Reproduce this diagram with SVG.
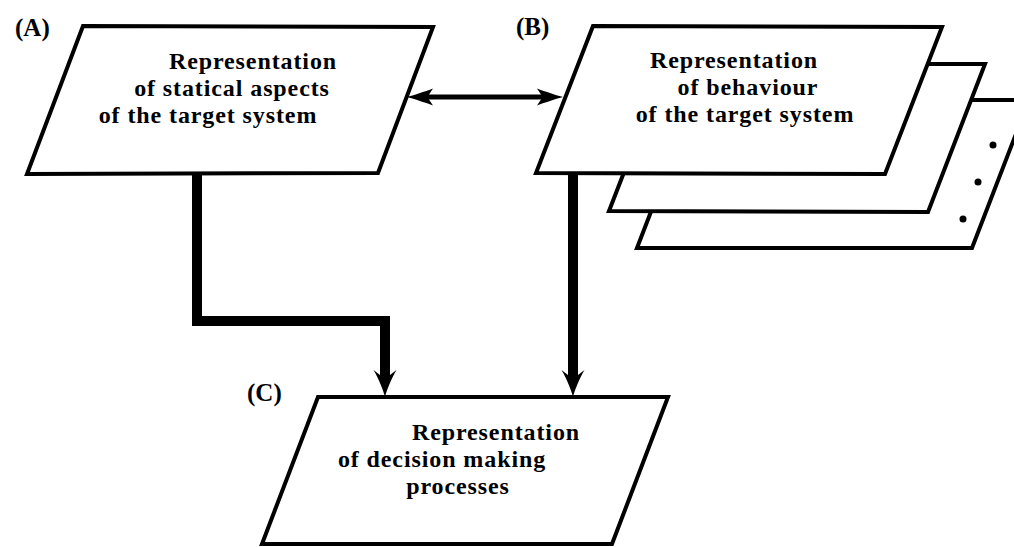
<svg xmlns="http://www.w3.org/2000/svg" width="1014" height="547" viewBox="0 0 1014 547">
<style>
.shape{fill:#fff;stroke:#000;stroke-width:4;stroke-linejoin:miter}
.txt{font-family:"Liberation Serif","Times New Roman",serif;font-weight:bold;font-size:24px;letter-spacing:0.9px;fill:#000;text-anchor:middle}
.lbl{font-family:"Liberation Serif","Times New Roman",serif;font-weight:bold;font-size:25px;fill:#000}
.flow{fill:none;stroke:#000;stroke-width:10;stroke-linejoin:miter}
.dbl{fill:none;stroke:#000;stroke-width:5}
</style>
<defs>
<marker id="headDown" markerUnits="userSpaceOnUse" markerWidth="30" markerHeight="28" refX="5" refY="14" orient="auto" overflow="visible">
<path d="M27,14 C21,12.5 9,8 0,2.5 L5,9 L5,19 L0,25.5 C9,20 21,15.5 27,14 Z" fill="#000"/>
</marker>
<marker id="headDbl" markerUnits="userSpaceOnUse" markerWidth="28" markerHeight="18" refX="4" refY="9" orient="auto-start-reverse" overflow="visible">
<path d="M26,9 C20,7.5 8,3.5 0,0.5 L4,6.5 L4,11.5 L0,17.5 C8,14.5 20,10.5 26,9 Z" fill="#000"/>
</marker>
</defs>
<rect width="1014" height="547" fill="#fff"/>

<g id="nodeA">
<polygon class="shape" points="83,26 433,27 378,173 27,174"/>
<text class="txt" x="253" y="69">Representation</text>
<text class="txt" x="232" y="96">of statical aspects</text>
<text class="txt" x="208" y="123">of the target system</text>
</g>
<text class="lbl" x="15" y="36">(A)</text>

<g id="nodeB">
<polygon class="shape" points="694,100 1029,100 972,248 637,248"/>
<polygon class="shape" points="666,64 985,64 928,212 609,211"/>
<polygon class="shape" points="593,26 942,27 885,174 536,173"/>
<circle cx="993" cy="145" r="3.5" fill="#000"/>
<circle cx="978" cy="182" r="3.5" fill="#000"/>
<circle cx="963" cy="219" r="3.5" fill="#000"/>
<text class="txt" x="734" y="68">Representation</text>
<text class="txt" x="748" y="95">of behaviour</text>
<text class="txt" x="745" y="122">of the target system</text>
</g>
<text class="lbl" x="516" y="35">(B)</text>

<g id="nodeC">
<polygon class="shape" points="318,397 668,397 612,544 262,544"/>
<text class="txt" x="496" y="440">Representation</text>
<text class="txt" x="442" y="467">of decision making</text>
<text class="txt" x="458" y="494">processes</text>
</g>
<text class="lbl" x="247" y="401">(C)</text>

<g id="connectors">
<path class="dbl" d="M429,97 L541,97" marker-start="url(#headDbl)" marker-end="url(#headDbl)"/>
<path class="flow" d="M197,174 L197,321 L385,321 L385,375" marker-end="url(#headDown)"/>
<path class="flow" d="M573,174 L573,375" marker-end="url(#headDown)"/>
</g>
</svg>
